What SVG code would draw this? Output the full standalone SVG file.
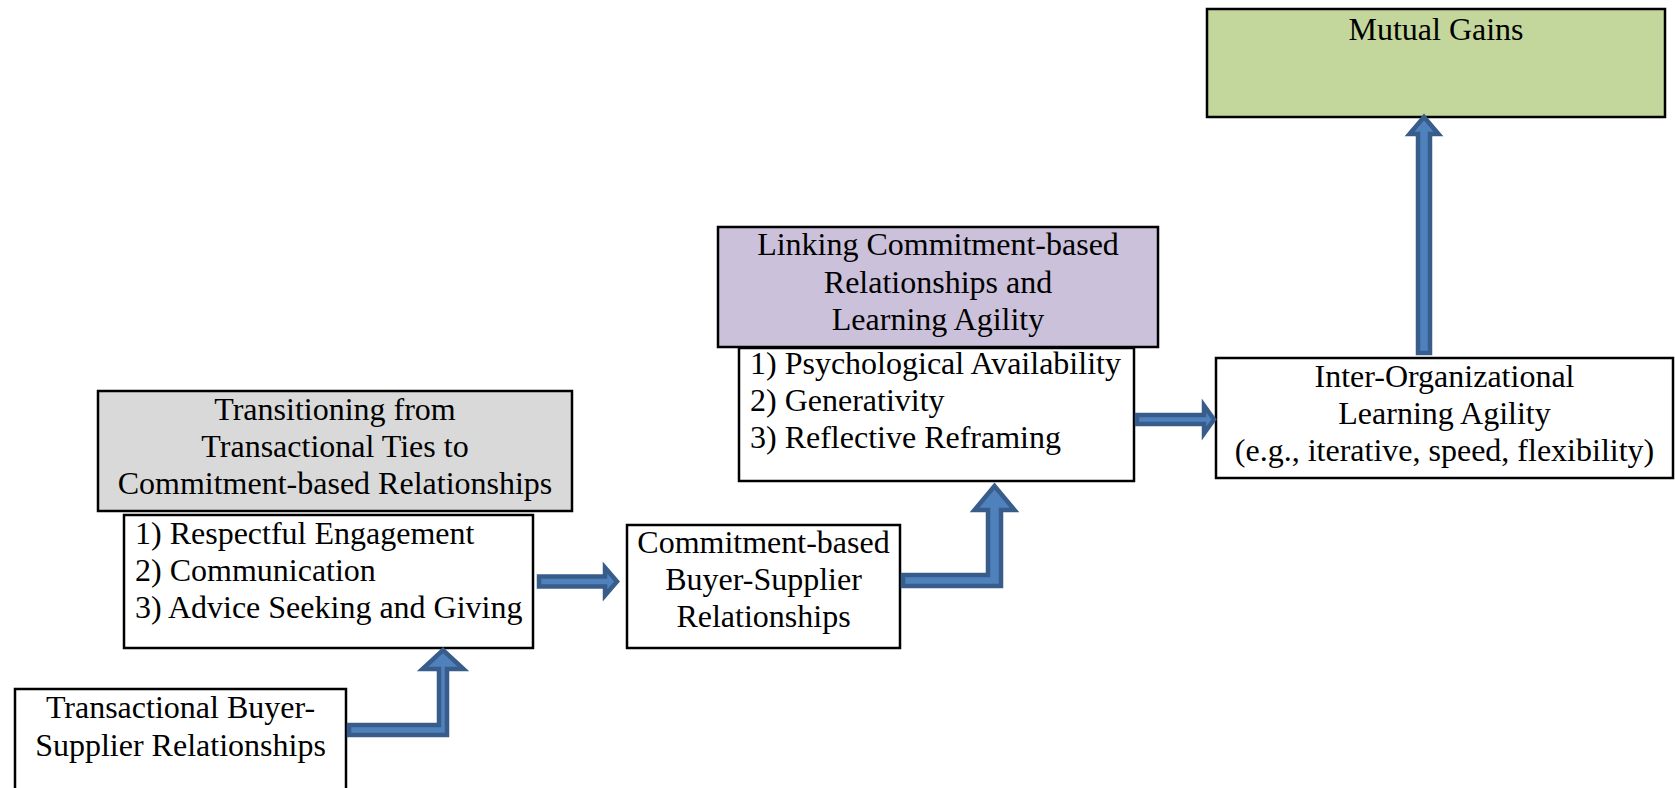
<svg xmlns="http://www.w3.org/2000/svg" width="1675" height="788" viewBox="0 0 1675 788">
<style>
  .box { stroke: #000; stroke-width: 2.5; }
  .plain { fill: #fff; }
  .gray { fill: #d9d9d9; }
  .purple { fill: #ccc1da; }
  .green { fill: #c3d69b; }
  text { font-family: "Liberation Serif", "Times New Roman", serif; font-size: 32px; fill: #000; }
  .c { text-anchor: middle; }
  .arrow { fill: #4f81bd; stroke: #385d8a; stroke-width: 4.5; stroke-linejoin: miter; stroke-miterlimit: 10; }
</style>
<rect width="1675" height="788" fill="#fff"/>

<g id="node-transactional">
  <rect class="box plain" x="15" y="689" width="331" height="120"/>
  <text class="c"><tspan x="180.5" y="718">Transactional Buyer-</tspan><tspan x="180.5" y="756">Supplier Relationships</tspan></text>
</g>

<g id="node-transitioning">
  <rect class="box plain" x="124" y="515" width="409" height="133"/>
  <rect class="box gray" x="98" y="391" width="474" height="120"/>
  <text class="c"><tspan x="335" y="420">Transitioning from</tspan><tspan x="335" y="457">Transactional Ties to</tspan><tspan x="335" y="494">Commitment-based Relationships</tspan></text>
  <text><tspan x="135" y="544">1) Respectful Engagement</tspan><tspan x="135" y="581">2) Communication</tspan><tspan x="135" y="618">3) Advice Seeking and Giving</tspan></text>
</g>

<g id="node-commitment">
  <rect class="box plain" x="627" y="525" width="273" height="123"/>
  <text class="c"><tspan x="763.5" y="553">Commitment-based</tspan><tspan x="763.5" y="590">Buyer-Supplier</tspan><tspan x="763.5" y="627">Relationships</tspan></text>
</g>

<g id="node-linking">
  <rect class="box plain" x="739" y="348" width="395" height="133"/>
  <rect class="box purple" x="718" y="227" width="440" height="120"/>
  <text class="c"><tspan x="938" y="255">Linking Commitment-based</tspan><tspan x="938" y="292.5">Relationships and</tspan><tspan x="938" y="330">Learning Agility</tspan></text>
  <text><tspan x="750" y="374">1) Psychological Availability</tspan><tspan x="750" y="411">2) Generativity</tspan><tspan x="750" y="448">3) Reflective Reframing</tspan></text>
</g>

<g id="node-agility">
  <rect class="box plain" x="1216" y="358" width="457" height="120"/>
  <text class="c"><tspan x="1444.5" y="387">Inter-Organizational</tspan><tspan x="1444.5" y="424">Learning Agility</tspan><tspan x="1444.5" y="461">(e.g., iterative, speed, flexibility)</tspan></text>
</g>

<g id="node-mutual">
  <rect class="box green" x="1207" y="9" width="458" height="108"/>
  <text class="c" x="1436" y="40">Mutual Gains</text>
</g>

<g id="connectors">
  <path class="arrow" d="M349,725 H439 V669 H422.5 L443,650 L463.5,669 H447 V735 H349 Z"/>
  <path class="arrow" d="M539,576.5 H605 V567.5 L617,581.5 L605,595.5 V586.5 H539 Z"/>
  <path class="arrow" d="M903,575 H988 V510 H974.5 L994.5,486 L1014.5,510 H1001 V586 H903 Z"/>
  <path class="arrow" d="M1137,415 H1204 V405.5 L1214,419.5 L1204,433.5 V424 H1137 Z"/>
  <path class="arrow" d="M1418,353 V134 H1409.5 L1424,117 L1438.5,134 H1430 V353 Z"/>
</g>
</svg>
